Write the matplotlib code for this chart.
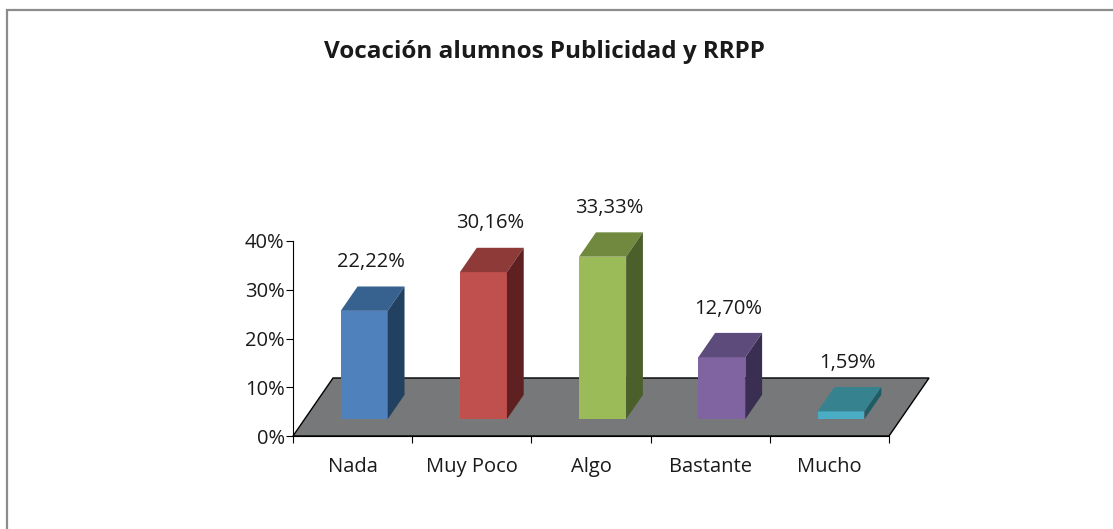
import matplotlib.pyplot as plt
from matplotlib.patches import Polygon, Rectangle

categories = ['Nada', 'Muy Poco', 'Algo', 'Bastante', 'Mucho']
values = [22.22, 30.16, 33.33, 12.70, 1.59]
labels = ['22,22%', '30,16%', '33,33%', '12,70%', '1,59%']
front_colors = ['#4F81BD', '#C0504D', '#9BBB59', '#8064A2', '#4BACC6']
top_colors = ['#37628F', '#8E3A38', '#71893F', '#5D4B7B', '#36838F']
side_colors = ['#22405F', '#5E2020', '#4B5F2B', '#3A2F52', '#1F5D66']

plt.rcParams['font.family'] = ['Open Sans', 'DejaVu Sans']

fig = plt.figure(figsize=(11.13, 5.29), dpi=100)
fig.patches.append(Rectangle((7 / 1113, -0.1), 1.2, (529 - 10) / 529 + 0.1,
                             transform=fig.transFigure, fill=False,
                             edgecolor='#8C8C8C', linewidth=1.6))
fig.text(0.489, 0.902, 'Vocación alumnos Publicidad y RRPP', ha='center', va='center',
         fontsize=17.5, fontweight='bold', color='#1A1A1A')

ax = fig.add_axes([293 / 1113, 93 / 529, 596 / 1113, 195 / 529])
ax.set_xlim(0, 5)
ax.set_ylim(0, 40)

# depth of the floor (in category / percent units)
depth_x, depth_y = 0.336, 11.9
f1, f2 = 0.29, 0.71
w = 0.394

floor = Polygon([(0, 0), (5, 0), (5 + depth_x, depth_y), (depth_x, depth_y)],
                closed=True, facecolor='#76787A', edgecolor='black', linewidth=1,
                clip_on=False, zorder=1)
ax.add_patch(floor)

ddx = (f2 - f1) * depth_x
ddy = (f2 - f1) * depth_y
base = f1 * depth_y
for i, v in enumerate(values):
    xl = i + 0.5 - w / 2 + f1 * depth_x
    xr = xl + w
    top = base + v
    ax.bar(xl, v, width=w, bottom=base, align='edge', color=front_colors[i],
           zorder=3, clip_on=False)
    ax.add_patch(Polygon([(xl, top), (xr, top), (xr + ddx, top + ddy), (xl + ddx, top + ddy)],
                         closed=True, facecolor=top_colors[i], edgecolor='none',
                         zorder=3, clip_on=False))
    ax.add_patch(Polygon([(xr, base), (xr + ddx, base + ddy), (xr + ddx, top + ddy), (xr, top)],
                         closed=True, facecolor=side_colors[i], edgecolor='none',
                         zorder=3, clip_on=False))
    ax.text(i + 0.5 + 0.15, top + ddy + 5.0, labels[i], ha='center', va='center',
            fontsize=14.5, color='#1A1A1A')

for s in ['top', 'right']:
    ax.spines[s].set_visible(False)
ax.spines['left'].set_zorder(5)
ax.spines['bottom'].set_zorder(5)

ax.set_yticks([0, 10, 20, 30, 40])
ax.set_yticklabels(['0%', '10%', '20%', '30%', '40%'])
ax.tick_params(axis='y', length=5, pad=1, labelsize=14.5, labelcolor='#1A1A1A')
ax.set_xticks(range(6))
ax.set_xticklabels([])
ax.set_xticks([i + 0.5 for i in range(5)], minor=True)
ax.set_xticklabels(categories, minor=True)
ax.tick_params(axis='x', which='major', length=5)
ax.tick_params(axis='x', which='minor', length=0, pad=15, labelsize=14.5, labelcolor='#1A1A1A')

plt.savefig('out.png', dpi=100)
